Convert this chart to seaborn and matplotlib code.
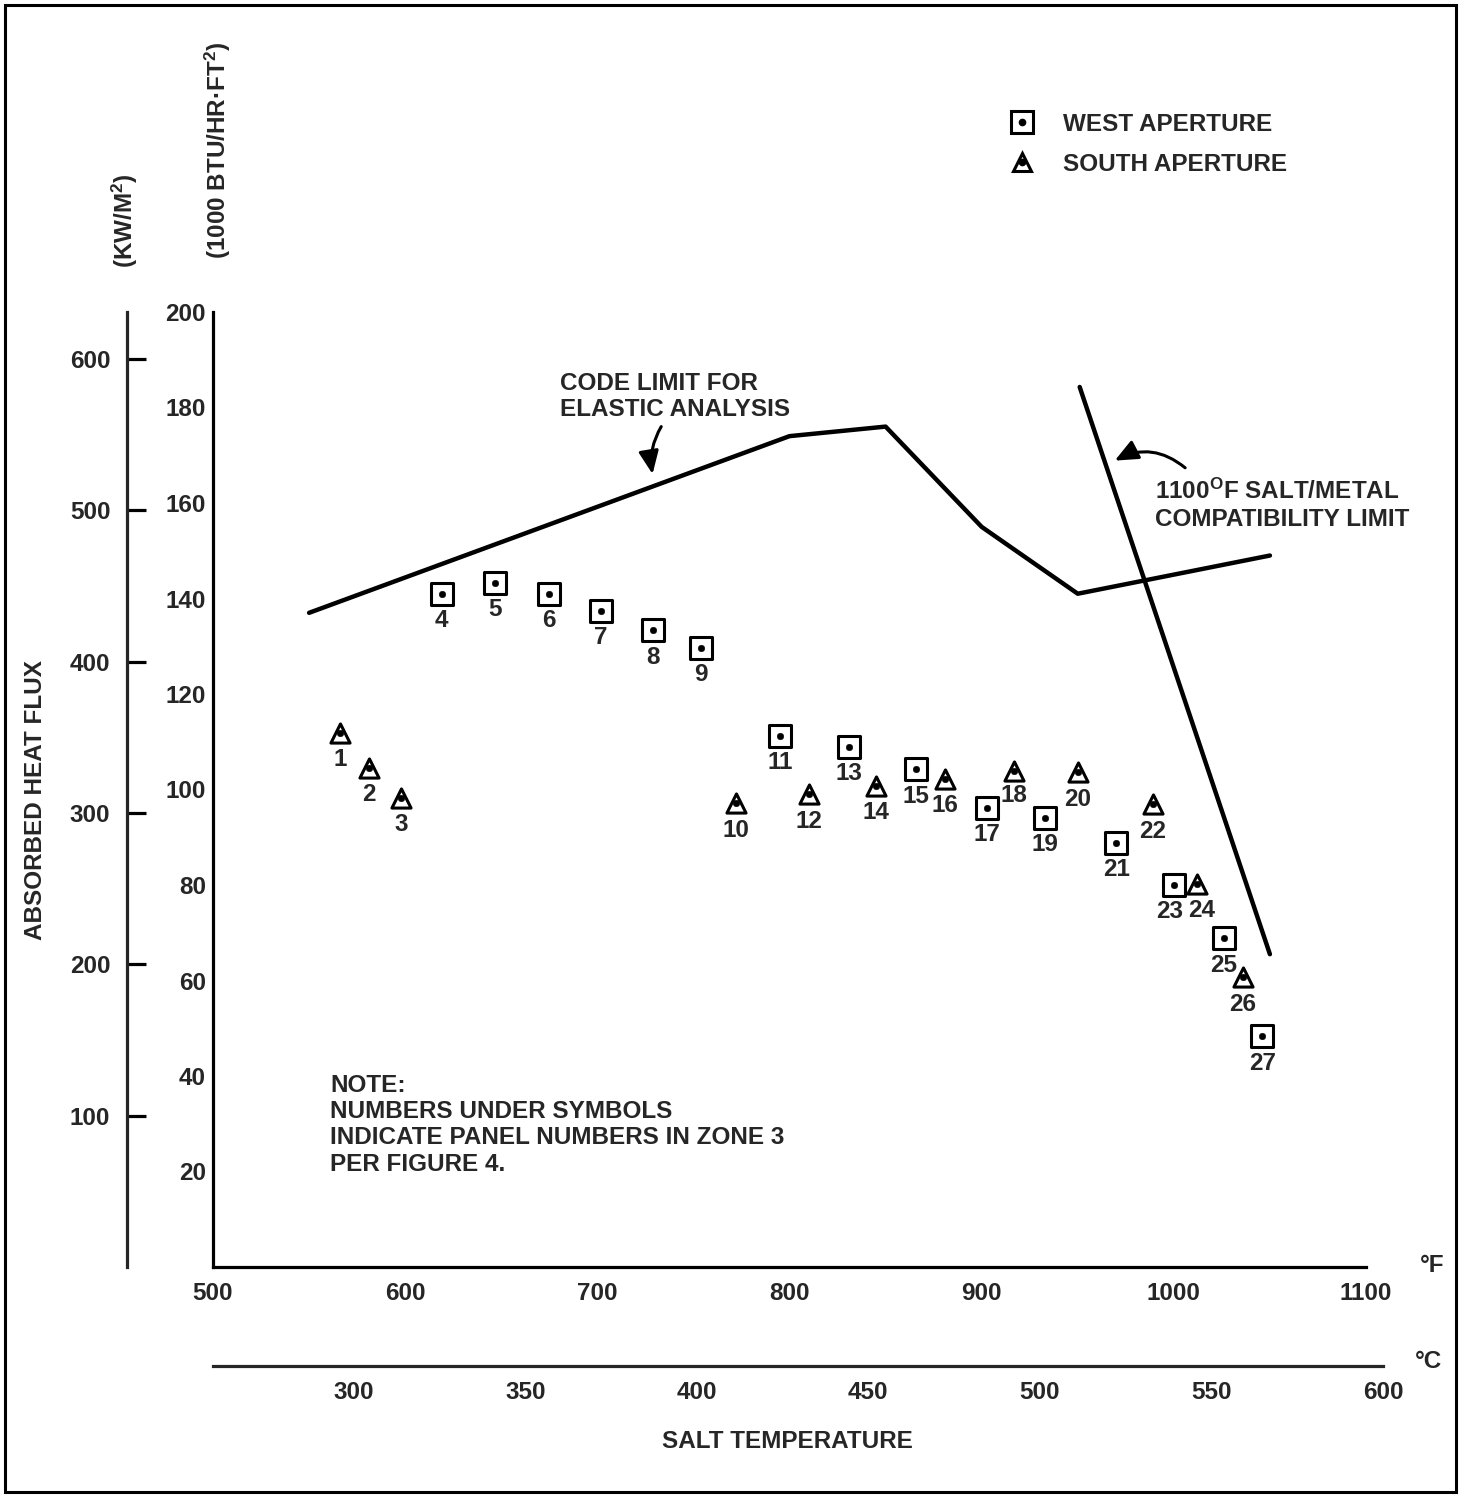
import numpy as np
import pandas as pd
import matplotlib as mplt
import matplotlib.pyplot as plt
import seaborn as sns
from matplotlib.lines import Line2D
from matplotlib.legend_handler import HandlerTuple
from matplotlib.patches import Rectangle

sns.set_style('white')
font_size = 17.5
mplt.rcParams['font.family'] = ['Liberation Sans', 'DejaVu Sans']
mplt.rcParams['font.size'] = font_size
mplt.rcParams['font.weight'] = 'bold'
mplt.rcParams['mathtext.fontset'] = 'custom'
mplt.rcParams['mathtext.rm'] = 'Liberation Sans:bold'
mplt.rcParams['mathtext.default'] = 'regular'

# data (deg F, 1000 BTU/hr-ft2)
west_temp = [619, 647, 675, 702, 729, 754, 795, 831, 866, 903, 933, 970, 1000, 1026, 1046]
west_flux = [141.0, 143.3, 141.0, 137.4, 133.3, 129.7, 111.3, 109.0, 104.2, 96.2, 94.1, 88.9, 80.1, 68.8, 48.3]
west_panel = [4, 5, 6, 7, 8, 9, 11, 13, 15, 17, 19, 21, 23, 25, 27]

south_temp = [566, 581, 598, 772, 810, 845, 881, 917, 950, 989, 1012, 1036]
south_flux = [111.9, 104.6, 98.3, 97.1, 99.0, 100.8, 102.3, 103.8, 103.6, 96.9, 80.3, 60.7]
south_panel = [1, 2, 3, 10, 12, 14, 16, 18, 20, 22, 24, 26]

code_temp = [550, 800, 850, 900, 950, 1050]
code_flux = [137, 174, 176, 155, 141, 149]

compat_temp = [951, 1050]
compat_flux = [184.3, 65.5]

kw_ticks = [100, 200, 300, 400, 500, 600]
c_ticks = [300, 350, 400, 450, 500, 550, 600]
btu_to_kw = 3.1546

# nudges (pixels) for crowded panel numbers
label_nudge = {23: (-4, 0), 24: (5, 0), 18: (0, 3)}

west = pd.DataFrame({'temp': west_temp, 'flux': west_flux, 'panel': west_panel})
south = pd.DataFrame({'temp': south_temp, 'flux': south_flux, 'panel': south_panel})
code = pd.DataFrame({'temp': code_temp, 'flux': code_flux})
compat = pd.DataFrame({'temp': compat_temp, 'flux': compat_flux})

W, H = 1467, 1495
fig = plt.figure(figsize=(W / 100, H / 100), dpi=100)
lw = 2.3
tick_kw = dict(direction='in', length=14, width=lw, labelsize=font_size, color='black')

ax = fig.add_axes([213 / W, 1 - 1267 / H, (1366 - 213) / W, (1267 - 312) / H])
ax.set_xlim(500, 1100)
ax.set_ylim(0, 200)

sns.lineplot(data=code, x='temp', y='flux', ax=ax, color='black', lw=3.2, sort=False)
sns.lineplot(data=compat, x='temp', y='flux', ax=ax, color='black', lw=3.2, sort=False)

sns.scatterplot(data=west, x='temp', y='flux', ax=ax, marker='s', s=250,
                facecolor='white', edgecolor='black', linewidth=2.2, zorder=3)
sns.scatterplot(data=south, x='temp', y='flux', ax=ax, marker='^', s=190,
                facecolor='white', edgecolor='black', linewidth=2.2, zorder=3)
sns.scatterplot(data=pd.concat([west, south]), x='temp', y='flux', ax=ax, marker='o', s=22,
                color='black', edgecolor='black', zorder=4)

for d in (west, south):
    for t, f, p in zip(d['temp'], d['flux'], d['panel']):
        dx, dy = label_nudge.get(p, (0, 0))
        ax.annotate(str(p), (t, f), xytext=(dx, -27 + dy), textcoords='offset pixels',
                    ha='center', va='center', fontsize=font_size)

ax.set_xticks(range(500, 1101, 100))
ax.set_yticks(range(20, 201, 20))
ax.tick_params(axis='both', **tick_kw)
ax.tick_params(axis='x', pad=11)
ax.tick_params(axis='y', pad=5)
ax.set_xlabel('')
ax.set_ylabel('')
for s in ['top', 'right']:
    ax.spines[s].set_visible(False)
for s in ['left', 'bottom']:
    ax.spines[s].set_linewidth(lw)
    ax.spines[s].set_color('black')

# kW/m2 scale
sec = ax.secondary_yaxis(-86 / 1153, functions=(lambda v: v * btu_to_kw, lambda v: v / btu_to_kw))
sec.set_yticks(kw_ticks)
sec.tick_params(**tick_kw)
sec.tick_params(pad=12)
sec.spines['left'].set_linewidth(lw)

# deg C scale
axc = fig.add_axes([213 / W, 1 - 1366 / H, (1383 - 213) / W, 0.0001])
axc.set_xlim(259, 600)
axc.set_xticks(c_ticks)
axc.set_yticks([])
axc.tick_params(axis='x', **tick_kw)
axc.tick_params(axis='x', pad=11)
for s in ['top', 'right', 'left']:
    axc.spines[s].set_visible(False)
axc.spines['bottom'].set_linewidth(lw)
axc.patch.set_visible(False)

# annotations
ax.text(680.5, 182.3, 'CODE LIMIT FOR\nELASTIC ANALYSIS', ha='left', va='center',
        fontsize=font_size, linespacing=1.15)
ax.annotate('', xy=(729, 165.5), xytext=(734, 176.5),
            arrowprops=dict(arrowstyle='-|>,head_length=0.8,head_width=0.35', color='black',
                            lw=2.2, connectionstyle='arc3,rad=0.2'))
ax.text(990, 159.6, '1100$^{O}$F SALT/METAL\nCOMPATIBILITY LIMIT', ha='left', va='center',
        fontsize=font_size, linespacing=1.22)
ax.annotate('', xy=(968, 168.6), xytext=(1007, 167),
            arrowprops=dict(arrowstyle='-|>,head_length=0.8,head_width=0.35', color='black',
                            lw=2.2, connectionstyle='arc3,rad=0.35'))
ax.text(561, 29.8, 'NOTE:\nNUMBERS UNDER SYMBOLS\nINDICATE PANEL NUMBERS IN ZONE 3\nPER FIGURE 4.',
        ha='left', va='center', fontsize=font_size, linespacing=1.18)

# legend
sq = Line2D([], [], marker='s', ms=15.5, mfc='white', mec='black', mew=2.2, ls='')
tri = Line2D([], [], marker='^', ms=13.5, mfc='white', mec='black', mew=2.2, ls='')
dot = Line2D([], [], marker='o', ms=4.5, color='black', ls='')
fig.legend(handles=[(sq, dot), (tri, dot)], labels=['WEST APERTURE', 'SOUTH APERTURE'],
           handler_map={tuple: HandlerTuple(ndivide=1)}, loc='upper left',
           bbox_to_anchor=(1007 / W, 1 - 113 / H), frameon=False, fontsize=font_size,
           handlelength=1.2, handletextpad=1.12, labelspacing=0.69, borderpad=0, borderaxespad=0)

# outside labels
fig.text(1432 / W, 1 - 1265 / H, '°F', ha='center', va='center', fontsize=font_size)
fig.text(1428 / W, 1 - 1362 / H, '°C', ha='center', va='center', fontsize=font_size)
fig.text(787 / W, 1 - 1441 / H, 'SALT TEMPERATURE', ha='center', va='center', fontsize=font_size)
fig.text(36 / W, 1 - 800 / H, 'ABSORBED HEAT FLUX', ha='center', va='center', rotation=90,
         fontsize=font_size)
fig.text(125 / W, 1 - 221 / H, '(KW/M$^{2}$)', ha='center', va='center', rotation=90,
         fontsize=font_size)
fig.text(218 / W, 1 - 150 / H, '(1000 BTU/HR·FT$^{2}$)', ha='center', va='center',
         rotation=90, fontsize=font_size)

fig.patches.append(Rectangle((5 / W, 1 - 1492 / H), (1456 - 5) / W, (1492 - 5) / H,
                             transform=fig.transFigure, fill=False, lw=2.2, ec='black'))

fig.savefig('out.png', dpi=100)
